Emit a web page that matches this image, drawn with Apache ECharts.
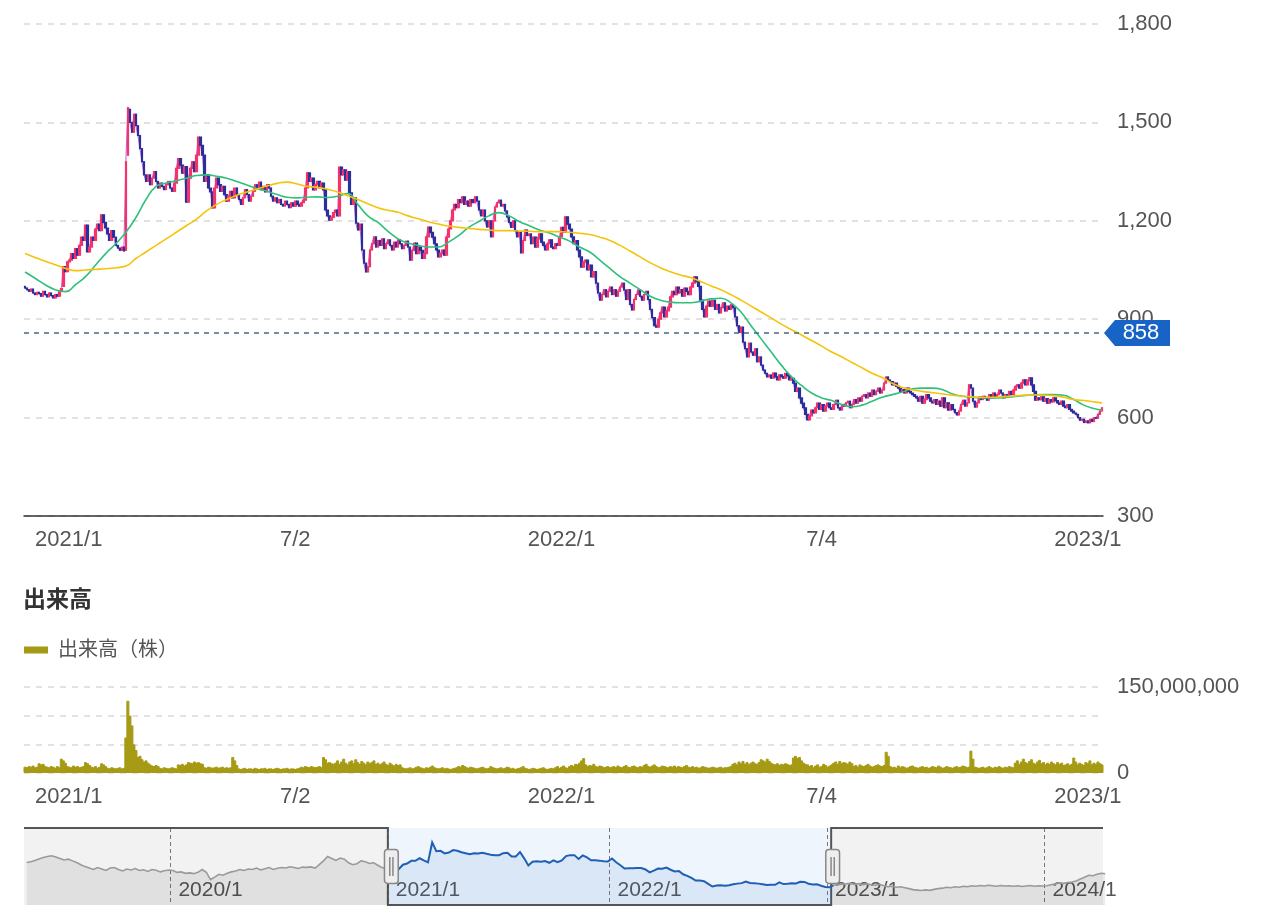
<!DOCTYPE html>
<html><head><meta charset="utf-8">
<script src="https://cdn.jsdelivr.net/npm/echarts@6/dist/echarts.min.js"></script>
<style>html,body{margin:0;padding:0;background:#fff}#c{width:1279px;height:923px}</style>
</head><body><div id="c"></div>
<script>
// ---------- data ----------
const firstDay = '2020-12-28';          // first trading day shown (weekday categories)
const overviewFirstWeek = '2019-05-03'; // first week of the navigator (weekly, Fridays)
const tickDates = ['2021-01-04','2021-07-02','2022-01-04','2022-07-04','2023-01-04'];
const tickLabels = ['2021/1','7/2','2022/1','7/4','2023/1'];
const yearLabels = ['2020/1','2021/1','2022/1','2023/1','2024/1'];
const markPrice = 858;

const closes = [
995,990,985,992,980,975,982,978,970,985,975,968,980,972,965,975,970,985,
993,
1060,1045,1075,
1080,1100,1085,1115,1095,1125,1150,1140,1187,1105,
1120,1150,1140,1175,1190,1170,1218,
1195,1178,1160,1140,1170,1150,1125,1117,
1110,1120,1108,1380,
1545,
1500,1470,1525,1490,
1460,1420,1380,1340,
1320,1340,1310,1330,1350,1320,1300,1315,1305,
1295,1310,1320,1300,1290,1315,
1360,1390,1370,1345,1365,
1257,
1330,1360,1380,1350,
1400,1455,1430,1400,
1320,1340,1300,1288,
1239,
1300,1330,1310,1290,1305,1280,
1260,1275,1290,1270,1300,1280,1265,1250,1270,1295,1280,1260,1275,
1290,1310,1300,1318,1295,1305,1288,1310,1300,
1275,1260,1270,1255,1265,1250,1245,1260,1250,1240,1255,1245,1260,1250,1245,
1255,1263,1300,1346,1320,1330,1294,1310,1320,1300,1315,1294,
1233,1215,1202,1210,1225,1233,1215,
1364,1340,1355,1324,1350,
1285,1250,1270,
1193,1172,1190,
1111,1071,1044,1060,
1111,1130,1151,1120,1140,1125,1145,1115,1130,1142,
1125,1111,1135,1120,1142,1130,1115,1125,1138,1120,
1080,1110,1132,1100,1120,1110,1085,1100,
1151,1181,1165,
1150,1130,1111,
1090,1100,1111,1095,
1150,1175,1200,1233,
1250,1240,1265,1255,1273,1250,1260,1245,1265,1255,1273,1260,
1233,1215,1233,1200,1181,1200,
1151,
1200,1242,1255,1263,1245,1250,
1230,1212,1195,1180,1200,1170,1151,1165,
1102,
1140,1172,1155,1160,1130,1150,1120,1145,1160,1135,1125,
1111,1130,1142,1120,1115,1130,1125,
1151,1180,1165,1212,1190,1175,
1151,1130,1140,1111,
1090,1059,1075,
1080,1050,1065,1029,1045,
1010,980,958,975,990,
968,985,998,975,990,970,985,998,1010,
989,960,990,945,928,960,975,
989,970,958,975,985,960,
930,905,880,876,900,
919,937,907,925,937,
968,985,975,998,980,990,970,995,985,975,998,
1010,1029,1015,1000,
958,930,907,940,955,
940,958,930,945,919,935,950,925,940,930,945,935,
907,880,860,876,830,810,785,
827,800,790,810,770,785,760,745,735,724,
730,720,736,725,715,730,725,720,735,728,715,720,
705,680,690,660,644,
630,610,593,605,623,
614,630,644,625,640,620,635,644,630,625,
640,653,630,623,640,635,645,650,630,640,
655,644,660,650,665,670,660,675,665,684,670,680,690,675,684,
705,724,715,710,700,
705,695,690,680,685,675,690,680,675,670,665,
660,650,665,644,655,670,660,650,645,655,
640,650,635,660,630,645,623,640,625,615,608,
620,640,653,635,645,
700,
690,650,632,645,663,
655,665,660,653,670,660,675,665,670,684,675,660,670,665,680,670,684,
695,700,690,705,715,700,712,721,
700,680,653,
660,655,663,650,658,644,655,648,660,652,
645,640,650,635,630,640,625,620,614,610,
600,592,595,585,590,584,595,588,600,598,
610,620,630
];

const opens = [
1000,995,990,985,992,980,975,982,978,970,985,975,968,980,972,965,975,970,
985,
1000,1060,1045,
1075,1080,1100,1085,1115,1095,1125,1150,1140,1187,
1105,1120,1150,1140,1175,1190,1170,
1218,1195,1178,1160,1140,1170,1150,1125,
1117,1110,1120,1110,
1400,
1540,1500,1470,1525,
1490,1460,1420,1380,
1340,1320,1340,1310,1330,1350,1320,1300,1315,
1305,1295,1310,1320,1300,1290,
1315,1360,1390,1370,1345,
1365,
1257,1330,1360,1380,
1350,1400,1455,1430,
1400,1320,1340,1300,
1288,
1239,1300,1330,1310,1290,1305,
1280,1260,1275,1290,1270,1300,1280,1265,1250,1270,1295,1280,1260,
1275,1290,1310,1300,1318,1295,1305,1288,1310,
1300,1275,1260,1270,1255,1265,1250,1245,1260,1250,1240,1255,1245,1260,1250,
1245,1255,1263,1300,1346,1320,1330,1294,1310,1320,1300,1315,
1294,1233,1215,1202,1210,1225,1233,
1215,1364,1340,1355,1324,
1350,1285,1250,
1270,1193,1172,
1190,1111,1071,1044,
1060,1111,1130,1151,1120,1140,1125,1145,1115,1130,
1142,1125,1111,1135,1120,1142,1130,1115,1125,1138,
1120,1080,1110,1132,1100,1120,1110,1085,
1100,1151,1181,
1165,1150,1130,
1111,1090,1100,1111,
1095,1150,1175,1200,
1233,1250,1240,1265,1255,1273,1250,1260,1245,1265,1255,1273,
1260,1233,1215,1233,1200,1181,
1200,
1151,1200,1242,1255,1263,1245,
1250,1230,1212,1195,1180,1200,1170,1151,
1165,
1102,1140,1172,1155,1160,1130,1150,1120,1145,1160,1135,
1125,1111,1130,1142,1120,1115,1130,
1125,1151,1180,1165,1212,1190,
1175,1151,1130,1140,
1111,1090,1059,
1075,1080,1050,1065,1029,
1045,1010,980,958,975,
990,968,985,998,975,990,970,985,998,
1010,989,960,990,945,928,960,
975,989,970,958,975,985,
960,930,905,880,876,
900,919,937,907,925,
937,968,985,975,998,980,990,970,995,985,975,
998,1010,1029,1015,
1000,958,930,907,940,
955,940,958,930,945,919,935,950,925,940,930,945,
935,907,880,860,876,830,810,
785,827,800,790,810,770,785,760,745,735,
724,730,720,736,725,715,730,725,720,735,728,715,
720,705,680,690,660,
644,630,610,593,605,
623,614,630,644,625,640,620,635,644,630,
625,640,653,630,623,640,635,645,650,630,
640,655,644,660,650,665,670,660,675,665,684,670,680,690,675,
684,705,724,715,710,
700,705,695,690,680,685,675,690,680,675,670,
665,660,650,665,644,655,670,660,650,645,
655,640,650,635,660,630,645,623,640,625,615,
608,620,640,653,635,
645,
700,690,650,632,645,
663,655,665,660,653,670,660,675,665,670,684,675,660,670,665,680,670,
684,695,700,690,705,715,700,712,
721,700,680,
653,660,655,663,650,658,644,655,648,660,
652,645,640,650,635,630,640,625,620,614,
610,600,592,595,585,590,584,595,588,600,
598,610,620
];

// moving averages read every 5 trading days (last point = last day)
const ma25 = [
1044,1025,1005,990,984,1005,1030,1065,1100,1130,
1165,1210,1265,1305,1315,1322,1330,1338,1340,1336,
1330,1320,1309,1298,1290,1280,1272,1270,1272,1273,
1271,1275,1283,1250,1215,1195,1168,1145,1132,1125,
1120,1120,1135,1155,1180,1198,1215,1225,1215,1198,
1185,1172,1163,1150,1138,1120,1105,1080,1055,1030,
1010,990,970,958,952,950,950,955,962,964,
950,922,880,840,800,760,725,698,675,660,
652,640,633,638,650,662,670,678,688,690,
690,685,672,665,662,660,660,661,664,667,
669,670,670,668,655,638,628,623
];
const ma75 = [
1100,1088,1077,1066,1055,1048,1050,1052,1054,1057,
1062,1085,1105,1125,1145,1165,1185,1205,1230,1250,
1265,1278,1288,1297,1306,1314,1318,1312,1305,1302,
1296,1288,1276,1265,1252,1240,1232,1226,1215,1206,
1197,1190,1184,1180,1177,1174,1172,1170,1170,1169,
1168,1167,1167,1167,1165,1162,1158,1150,1140,1125,
1108,1090,1072,1057,1045,1035,1027,1015,1002,990,
975,958,940,922,904,885,868,852,835,818,
800,785,768,752,735,722,705,692,685,680,
676,672,668,665,663,662,662,664,666,668,
669,669,667,662,655,652,648,645
];
const maStep = 5;

// daily volume in millions of shares
const volumeMillions = [
11,10,12,11,13,10,11,
17,15,16,12,
11,10,12,11,9,12,10,
25,22,18,
12,11,10,13,11,12,10,11,12,
19,17,14,
11,10,12,9,11,
17,15,12,
9,8,10,9,8,9,10,8,9,
62,126,100,83,50,40,28,30,
24,20,22,18,
15,13,12,14,12,
9,8,10,9,8,9,10,9,8,
15,14,16,13,15,
19,18,17,20,18,19,17,16,
10,9,11,10,9,10,11,9,10,11,9,10,9,10,
28,22,14,
8,7,8,9,7,8,8,7,9,8,7,8,8,9,7,8,8,7,8,9,8,7,8,8,9,7,8,8,7,8,9,
11,10,12,11,10,12,11,10,11,12,10,
28,24,18,
19,17,16,
18,22,16,20,25,18,15,20,22,17,24,19,16,21,18,15,20,17,19,22,16,18,15,17,20,16,14,18,15,13,16,14,15,
10,9,8,9,10,8,9,11,12,10,9,8,10,9,11,13,10,9,8,9,10,8,9,8,7,8,9,10,12,11,14,12,10,9,11,10,9,8,9,10,11,9,8,9,
12,10,9,8,9,10,8,9,11,10,8,9,7,8,9,10,12,9,8,7,8,9,8,7,8,9,10,8,7,8,9,8,10,12,9,11,13,10,9,12,
14,12,16,15,18,22,26,15,12,14,13,16,12,11,13,12,10,11,12,10,
11,12,10,13,11,10,12,14,11,10,12,13,11,10,12,11,14,16,12,11,13,15,12,10,11,13,12,11,10,12,11,13,10,12,11,10,12,14,11,10,
12,10,11,9,10,12,11,10,9,10,11,10,9,10,11,9,10,10,11,12,
16,18,15,20,17,21,16,19,15,18,20,17,16,19,
24,22,20,25,21,18,
16,15,17,14,16,15,17,16,14,15,
27,30,26,28,22,18,16,15,
12,14,10,13,15,11,12,16,14,11,13,15,
18,20,16,21,17,19,18,16,20,17,
12,14,11,15,13,12,14,16,13,11,12,14,15,13,12,14,
37,30,
12,10,11,9,13,10,12,11,9,10,12,13,11,10,9,11,12,10,11,9,10,12,11,10,13,11,9,10,12,11,10,9,11,12,10,11,13,12,10,11,
39,25,
11,10,9,10,11,9,10,12,10,9,11,10,12,10,9,11,10,12,11,10,
18,22,16,20,25,19,17,21,24,18,16,20,23,17,19,15,18,16,20,17,15,19,16,18,14,
15,17,14,16,27,20,15,18,16,14,19,17,22,15,18,16,20,17,15
];

// navigator: weekly closes before and after the visible window
const overviewBefore = [
1105,1120,1150,1180,1210,1230,1247,
1220,1190,1160,1175,1140,1105,1060,
1020,990,960,1000,
970,940,990,1000,960,930,970,950,980,
940,955,920,960,945,910,935,950,940,
900,910,880,890,873,900,960,
900,750,800,860,840,
880,910,930,960,940,970,960,990,950,975,1000,960,985,1000,
990,1016,1000,980,1010,1005,1015,990,1060,1140,
1230,1190,1150,1200,1175,1100,1060,
1080,1140,1120,1085,1100,1050,1000,975
];
const overviewAfter = [
640,655,660,670,650,665,645,660,
640,630,650,620,600,610,590,600,
580,560,540,530,520,535,525,545,560,
570,590,580,600,590,610,600,620,
610,625,615,630,620,610,625,615,620,
610,620,605,615,625,610,620,615,
620,640,660,680,670,690,700,720,
760,800,840,830,860,880,870
];

// ---------- build ----------
const N = closes.length;
const dates = [];
{
  let t = Date.parse(firstDay + 'T00:00:00Z');
  while (dates.length < N) {
    const d = new Date(t); const wd = d.getUTCDay();
    if (wd !== 0 && wd !== 6) dates.push(d.toISOString().slice(0, 10));
    t += 86400000;
  }
}
const candles = dates.map((d, i) => [opens[i], closes[i], Math.min(opens[i], closes[i]), Math.max(opens[i], closes[i])]);
const maPoints = arr => arr.map((v, k) => [dates[Math.min(k * maStep, N - 1)], v]);
const volumes = volumeMillions.map(v => v * 1e6);

const weeklyInWindow = [];
dates.forEach((d, i) => { if (new Date(d + 'T00:00:00Z').getUTCDay() === 5) weeklyInWindow.push(closes[i]); });
const overviewCloses = overviewBefore.concat(weeklyInWindow, overviewAfter);
const overviewDates = [];
{
  let t = Date.parse(overviewFirstWeek + 'T00:00:00Z');
  for (let i = 0; i < overviewCloses.length; i++) { overviewDates.push(new Date(t).toISOString().slice(0, 10)); t += 7 * 86400000; }
}
const startWeek = overviewBefore.length;
const endWeek = overviewBefore.length + weeklyInWindow.length - 1;
const yearTickDates = overviewDates.filter((d, i) => i > 0 && d.slice(0, 4) !== overviewDates[i - 1].slice(0, 4));

const font = '"Liberation Sans", Arial, "Noto Sans CJK JP", sans-serif';
const gl = 24, gr = 176;
const labelColor = '#555';
const mainTickFn = (i, v) => tickDates.indexOf(v) >= 0;
const mainFmt = v => tickLabels[tickDates.indexOf(v)];
const yearFn = (i, v) => yearTickDates.indexOf(v) >= 0;

const chart = echarts.init(document.getElementById('c'), null, {renderer: 'canvas'});
const option = {
  animation: false,
  textStyle: {fontFamily: font},
  title: {text: '出来高', left: 23, top: 589, padding: 0,
    textStyle: {fontSize: 23, fontWeight: 'bold', color: '#333', fontFamily: font}},
  legend: {data: ['出来高（株）'], left: 24, top: 640, padding: 0, icon: 'rect', itemWidth: 22, itemHeight: 5,
    textStyle: {fontSize: 20, color: labelColor, padding: [0, 0, 0, 6], fontFamily: font}},
  grid: [
    {left: gl, right: gr, top: 24, height: 492},
    {left: gl, right: gr, top: 687, height: 86},
    {left: gl, right: gr, top: 828, height: 77},
    {left: gl, right: gr, top: 828, height: 77}
  ],
  xAxis: [
    {type: 'category', gridIndex: 0, data: dates, boundaryGap: true,
      axisLine: {lineStyle: {color: '#333', width: 1.5}}, axisTick: {show: false}, splitLine: {show: false},
      axisLabel: {interval: mainTickFn, formatter: mainFmt, color: labelColor, fontSize: 22, margin: 13, alignMinLabel: 'left'}},
    {type: 'category', gridIndex: 1, data: dates, boundaryGap: true,
      axisLine: {show: false}, axisTick: {show: false}, splitLine: {show: false},
      axisLabel: {interval: mainTickFn, formatter: mainFmt, color: labelColor, fontSize: 22, margin: 13, alignMinLabel: 'left'}},
    {type: 'category', gridIndex: 2, data: overviewDates, show: false},
    {type: 'category', gridIndex: 3, data: overviewDates, boundaryGap: false, z: 3,
      axisLine: {show: false}, axisTick: {show: false},
      axisLabel: {inside: true, interval: yearFn, formatter: v => yearLabels[yearTickDates.indexOf(v)],
        color: labelColor, fontSize: 21, margin: 4, align: 'left', padding: [0, 0, 0, 8]},
      splitLine: {show: true, interval: yearFn, lineStyle: {color: '#777', type: [4, 3], width: 1}}}
  ],
  yAxis: [
    {type: 'value', gridIndex: 0, position: 'right', min: 300, max: 1800, interval: 300,
      axisLine: {show: false}, axisTick: {show: false},
      axisLabel: {formatter: v => v.toLocaleString('en-US'), color: labelColor, fontSize: 22, margin: 14},
      splitLine: {lineStyle: {color: '#d9d9d9', type: [6, 6], width: 1.5}}},
    {type: 'value', gridIndex: 1, position: 'right', min: 0, max: 150e6, interval: 50e6,
      axisLine: {show: false}, axisTick: {show: false},
      axisLabel: {formatter: v => (v === 0 || v === 150e6) ? v.toLocaleString('en-US') : '', color: labelColor, fontSize: 22, margin: 14},
      splitLine: {lineStyle: {color: '#d9d9d9', type: [6, 6], width: 1.5}}},
    {type: 'value', gridIndex: 2, show: false, scale: true},
    {type: 'value', gridIndex: 3, show: false, min: 0, max: 1}
  ],
  dataZoom: [{
    type: 'slider', xAxisIndex: 2, startValue: startWeek, endValue: endWeek,
    left: gl, right: gr, top: 828, height: 77, z: 4,
    backgroundColor: 'rgba(0,0,0,0)', borderColor: 'rgba(0,0,0,0)', fillerColor: 'rgba(0,0,0,0)',
    showDetail: false, brushSelect: false, moveHandleSize: 0,
    moveHandleStyle: {opacity: 0},
    dataBackground: {lineStyle: {color: '#9a9a9a', width: 1.6, opacity: 1}, areaStyle: {color: 'rgba(0,0,0,0.075)', opacity: 1}},
    selectedDataBackground: {lineStyle: {color: '#1f5fb4', width: 2, opacity: 1}, areaStyle: {color: 'rgba(40,110,200,0.10)', opacity: 1}},
    handleIcon: 'path://M3,0H10A3,3,0,0,1,13,3V29A3,3,0,0,1,10,32H3A3,3,0,0,1,0,29V3A3,3,0,0,1,3,0ZM5,7V25M8,7V25',
    handleSize: '44%',
    handleStyle: {color: '#eeeeee', borderColor: '#888', borderWidth: 1.5},
    emphasis: {handleStyle: {color: '#eeeeee', borderColor: '#888', borderWidth: 1.5}, moveHandleStyle: {opacity: 0}}
  }],
  series: [
    {type: 'candlestick', name: 'price', xAxisIndex: 0, yAxisIndex: 0, data: candles, barWidth: '100%', large: false, z: 3,
      itemStyle: {color: '#f5336b', color0: '#2a2f9c', borderColor: '#f5336b', borderColor0: '#2a2f9c', borderWidth: 1.2},
      markLine: {silent: true, symbol: 'none', label: {show: false},
        lineStyle: {color: '#46688c', type: [5, 5], width: 1.5}, data: [{yAxis: markPrice}]},
      markPoint: {silent: true, symbol: 'path://M0,13L11,0H66V26H11Z', symbolSize: [66, 26], symbolOffset: [35, 0],
        itemStyle: {color: '#1763c6'},
        label: {show: true, color: '#fff', fontSize: 22, offset: [4, 0], formatter: String(markPrice)},
        data: [{coord: [dates[N - 1], markPrice], value: markPrice}]}},
    {type: 'line', name: 'close', xAxisIndex: 0, yAxisIndex: 0, data: closes, showSymbol: false, z: 2,
      lineStyle: {color: '#c766d6', width: 1.1}},
    {type: 'line', name: 'ma25', xAxisIndex: 0, yAxisIndex: 0, data: maPoints(ma25), showSymbol: false, smooth: true, z: 4,
      lineStyle: {color: '#2fc07a', width: 1.6}},
    {type: 'line', name: 'ma75', xAxisIndex: 0, yAxisIndex: 0, data: maPoints(ma75), showSymbol: false, smooth: true, z: 4,
      lineStyle: {color: '#f5c30a', width: 1.6}},
    {type: 'bar', name: '出来高（株）', xAxisIndex: 1, yAxisIndex: 1, data: volumes, barCategoryGap: '0%', barWidth: '150%', large: false,
      itemStyle: {color: '#a69a14', borderColor: '#a69a14', borderWidth: 1}},
    {type: 'line', name: 'overview', xAxisIndex: 2, yAxisIndex: 2, data: overviewCloses, showSymbol: false, silent: true,
      lineStyle: {opacity: 0}},
    {type: 'line', name: 'window', xAxisIndex: 3, yAxisIndex: 3, data: overviewDates.map(d => [d, null]), z: 1, silent: true,
      showSymbol: false,
      markArea: {silent: true, data: [
        [{xAxis: overviewDates[0], itemStyle: {color: '#f2f2f2'}}, {xAxis: overviewDates[startWeek]}],
        [{xAxis: overviewDates[startWeek], itemStyle: {color: '#eef5fc'}}, {xAxis: overviewDates[endWeek]}],
        [{xAxis: overviewDates[endWeek], itemStyle: {color: '#f2f2f2'}}, {xAxis: overviewDates[overviewDates.length - 1]}]
      ]}}
  ]
};
chart.setOption(option);

// navigator frame following the selected window
const px = v => chart.convertToPixel({xAxisIndex: 3}, v);
const py = v => chart.convertToPixel({yAxisIndex: 3}, v);
const L = px(overviewDates[0]), R = px(overviewDates[overviewDates.length - 1]);
const sx = px(overviewDates[startWeek]), ex = px(overviewDates[endWeek]);
const T = py(1), B = py(0);
chart.setOption({graphic: [{type: 'polyline', z: 3, silent: true,
  shape: {points: [[L, T], [sx, T], [sx, B], [ex, B], [ex, T], [R, T]]},
  style: {stroke: '#555', lineWidth: 2, fill: null}}]});
</script>
</body></html>
